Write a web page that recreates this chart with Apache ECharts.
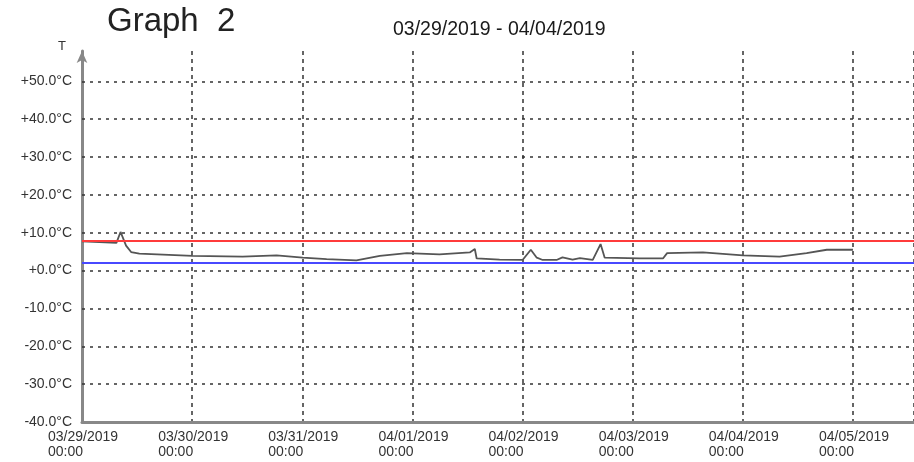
<!DOCTYPE html>
<html>
<head>
<meta charset="utf-8">
<script src="https://cdn.jsdelivr.net/npm/echarts@6/dist/echarts.min.js"></script>
<style>
  html, body { margin: 0; padding: 0; background: #fff; }
  #chart { width: 914px; height: 462px; }
</style>
</head>
<body>
<div id="chart"></div>
<script>
// readings: hours since 03/29/2019 00:00 and temperature in degC
var startDate = Date.UTC(2019, 2, 29);
var hours = [0, 3.8, 7.5, 8.4, 9.6, 10.7, 12.5, 24.1, 35, 42.4, 48.1, 53.3, 59.8, 64.9, 70.8, 77.9,
  84.5, 85.6, 86, 91, 96, 97.8, 99.1, 100.4, 103.4, 104.7, 106.9, 108.5, 111.3, 113, 113.9,
  121.5, 126.6, 127.5, 135.3, 144, 152, 157.9, 162.3, 168];
var temps = [7.7, 7.5, 7.3, 10.2, 6.6, 4.9, 4.5, 3.9, 3.7, 4.0, 3.4, 3.0, 2.7, 3.9, 4.6, 4.3,
  4.8, 5.7, 3.2, 2.9, 2.8, 5.5, 3.4, 2.8, 2.8, 3.5, 2.9, 3.3, 2.8, 7.0, 3.4,
  3.2, 3.2, 4.6, 4.8, 4.0, 3.7, 4.6, 5.5, 5.5];
var gridTemps = [-30, -20, -10, 0, 10, 20, 30, 40, 50];
var upperLimit = 8;
var lowerLimit = 2;
var titleText = 'Graph  2';
var rangeText = '03/29/2019 - 04/04/2019';

var font = 'Liberation Sans, Arial, sans-serif';
var ink = '#333';

function pad(n) {
  return ('0' + n).slice(-2);
}

function dayLabel(h) {
  if (h % 24 !== 0) return '';
  var d = new Date(startDate + h * 3600000);
  var s = pad(d.getUTCMonth() + 1) + '/' + pad(d.getUTCDate()) + '/' + d.getUTCFullYear();
  return '{d|' + s + '}\n{d|00:00}';
}

function tempLabel(v) {
  if (v > 50) return '';
  return (v >= 0 ? '+' : '') + v.toFixed(1) + '°C';
}

var dotted = { color: ink, width: 1.5, type: [3, 5] };

var markData = gridTemps.map(function (t) {
  return { yAxis: t, lineStyle: dotted };
});
markData.push({ yAxis: upperLimit, lineStyle: { color: '#ff3b3b', width: 2, type: 'solid' } });
markData.push({ yAxis: lowerLimit, lineStyle: { color: '#4848ff', width: 2, type: 'solid' } });

var chart = echarts.init(document.getElementById('chart'), null, { renderer: 'canvas' });
chart.setOption({
  animation: false,
  textStyle: { fontFamily: font },
  title: [{
    text: titleText,
    left: 107,
    top: 5,
    padding: 0,
    textStyle: { fontSize: 33, fontWeight: 'normal', color: '#222', fontFamily: font }
  }, {
    text: rangeText,
    left: 393,
    top: 20,
    padding: 0,
    textStyle: { fontSize: 19.5, fontWeight: 'normal', color: '#1a1a1a', fontFamily: font }
  }],
  grid: {
    left: 82,
    right: 0,
    top: 51,
    bottom: 40,
    containLabel: false,
    outerBoundsMode: 'none'
  },
  xAxis: {
    type: 'value',
    min: 0,
    max: 181.3,
    interval: 24,
    axisLine: { onZero: false, lineStyle: { color: '#888', width: 3 } },
    axisTick: { show: false },
    splitLine: { show: true, lineStyle: { color: ink, width: 1.5, type: [4, 4] } },
    axisLabel: {
      margin: 8,
      showMaxLabel: false,
      formatter: dayLabel,
      rich: {
        d: { width: 68, align: 'left', fontSize: 14, lineHeight: 15, color: ink, fontFamily: font }
      }
    }
  },
  yAxis: {
    type: 'value',
    min: -40,
    max: 58,
    interval: 10,
    name: 'T',
    nameLocation: 'end',
    nameGap: 5,
    nameTextStyle: { align: 'right', verticalAlign: 'middle', padding: [0, 16, 0, 0], fontSize: 13, color: ink, fontFamily: font },
    axisLine: { show: true, onZero: false, symbol: ['none', 'arrow'], symbolSize: [8, 12], lineStyle: { color: '#888', width: 3 } },
    axisTick: { show: false },
    splitLine: { show: false },
    axisLabel: {
      margin: 10,
      fontSize: 14,
      color: ink,
      fontFamily: font,
      padding: [0, 0, 10, 0],
      formatter: tempLabel
    }
  },
  series: [{
    type: 'line',
    data: hours.map(function (h, i) { return [h, temps[i]]; }),
    showSymbol: false,
    lineStyle: { color: '#555', width: 1.8 },
    markLine: {
      silent: true,
      symbol: ['none', 'none'],
      label: { show: false },
      data: markData
    }
  }]
});
</script>
</body>
</html>
